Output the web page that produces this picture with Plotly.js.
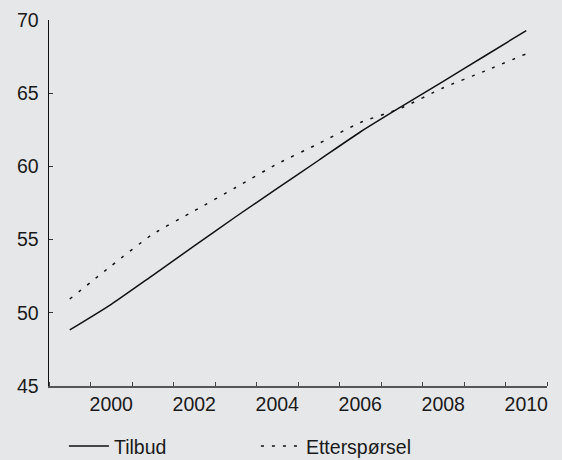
<!DOCTYPE html>
<html>
<head>
<meta charset="utf-8">
<script src="https://cdn.plot.ly/plotly-3.0.1.min.js"></script>
<style>html,body{margin:0;padding:0;background:#e6e7e9;}#chart{width:562px;height:460px;}</style>
</head>
<body>
<div id="chart"></div>
<script>
const years = [1999, 2000, 2001, 2002, 2003, 2004, 2005, 2006, 2007, 2008, 2009, 2010];
const tilbud = [48.83, 50.58, 52.56, 54.57, 56.56, 58.50, 60.42, 62.35, 64.10, 65.81, 67.54, 69.28];
const etterspoersel = [50.94, 53.21, 55.37, 56.96, 58.56, 60.17, 61.56, 62.99, 64.00, 65.37, 66.51, 67.69];
const seriesNames = ['Tilbud', 'Etterspørsel'];
const xTickVals = [2000, 2002, 2004, 2006, 2008, 2010];
const xTickText = ['2000', '2002', '2004', '2006', '2008', '2010'];
const yTickVals = [45, 50, 55, 60, 65, 70];

const bg = '#e6e7e9';
const font = {family: '"Liberation Sans", Arial, sans-serif', size: 19.5, color: '#1a1a1a'};

const traces = [
  {x: years, y: tilbud, name: seriesNames[0], type: 'scatter', mode: 'lines',
   line: {color: '#111111', width: 1.5, shape: 'spline', smoothing: 0.6}},
  {x: years, y: etterspoersel, name: seriesNames[1], type: 'scatter', mode: 'lines',
   line: {color: '#111111', width: 1.5, dash: '3px,8px', shape: 'spline', smoothing: 0.6}}
];

const layout = {
  width: 562, height: 460,
  paper_bgcolor: bg, plot_bgcolor: bg,
  font: font,
  margin: {l: 49, r: 15, t: 20, b: 74, autoexpand: false},
  showlegend: true,
  legend: {orientation: 'h', x: 0.03, y: -0.165, xanchor: 'left', yanchor: 'middle',
           bgcolor: 'rgba(0,0,0,0)', itemwidth: 40, entrywidth: 137, entrywidthmode: 'pixels',
           font: font},
  xaxis: {
    range: [1998.5, 2010.5], showgrid: false, zeroline: false,
    showline: true, linecolor: '#555555', linewidth: 2,
    tickmode: 'array', tickvals: xTickVals, ticktext: xTickText, ticks: '',
    ticklabelstandoff: 0,
    minor: {tick0: 1998.5, dtick: 1, ticks: 'inside', ticklen: 4, tickcolor: '#444444', tickwidth: 1, showgrid: false}
  },
  yaxis: {
    range: [45, 70], showgrid: false, zeroline: false,
    showline: true, linecolor: '#111111', linewidth: 1.5,
    tickmode: 'array', tickvals: yTickVals, ticks: 'inside', ticklen: 4, tickcolor: '#333333',
    ticklabelstandoff: 5
  }
};

Plotly.newPlot('chart', traces, layout, {displayModeBar: false, staticPlot: true});
</script>
</body>
</html>
